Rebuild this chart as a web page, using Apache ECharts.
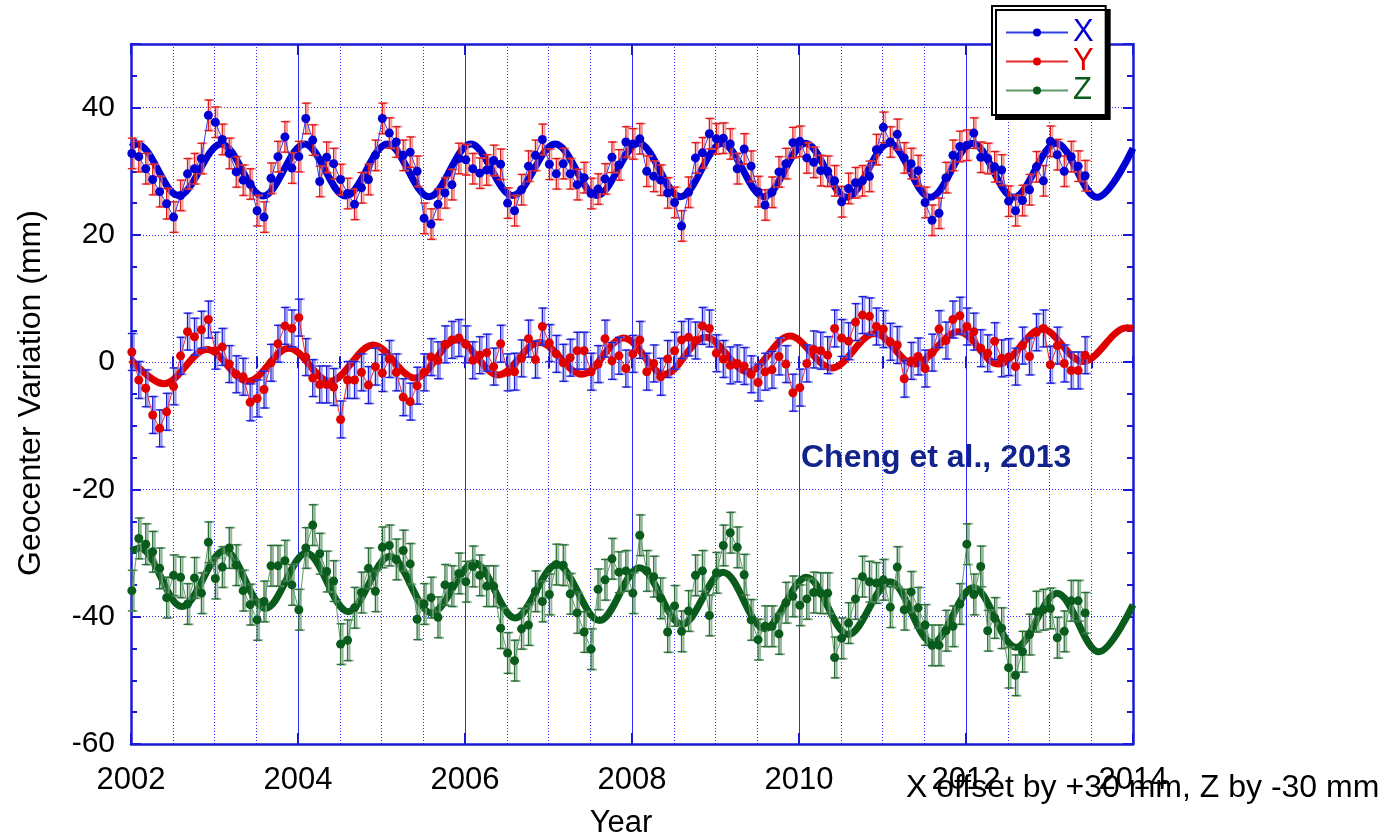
<!DOCTYPE html>
<html>
<head>
<meta charset="utf-8">
<script src="https://cdn.jsdelivr.net/npm/echarts@6/dist/echarts.min.js"></script>
<style>
  html, body { margin: 0; padding: 0; background: #fff; }
  #chart { width: 1389px; height: 839px; }
</style>
</head>
<body>
<div id="chart"></div>
<script>
// Monthly geocenter solutions, first epoch early January 2002 (decimal years)
const startYear = 2002.01;
const monthStep = 1 / 12;

// X component, offset by +30 mm
const xValues = [
  32.8, 32.3, 30.4, 28.7, 26.8, 24.9, 22.8, 26.2, 29.6, 30.4, 32.0, 38.8,
  37.7, 35.0, 32.8, 29.9, 28.6, 28.0, 23.8, 22.8, 28.9, 32.3, 35.4, 30.5,
  32.3, 38.3, 34.9, 28.4, 32.2, 31.2, 28.7, 26.5, 24.8, 27.4, 28.7, 32.5,
  38.3, 36.0, 34.6, 32.5, 33.0, 30.0, 22.6, 21.7, 24.8, 26.6, 27.9, 32.0,
  31.8, 30.4, 29.7, 30.2, 31.7, 31.1, 25.0, 23.8, 27.1, 30.8, 32.5, 35.0,
  31.1, 29.6, 31.2, 29.6, 27.9, 29.0, 26.5, 27.2, 28.8, 32.2, 31.0, 34.6,
  34.3, 35.1, 30.0, 29.2, 28.6, 26.6, 25.1, 21.4, 26.7, 32.1, 32.9, 35.9,
  35.1, 35.2, 34.3, 30.4, 33.5, 30.8, 26.8, 24.7, 26.7, 29.9, 31.2, 34.5,
  34.7, 32.1, 31.4, 30.1, 30.0, 28.5, 25.2, 27.3, 28.2, 28.5, 29.2, 33.4,
  36.9, 34.6, 35.8, 32.1, 31.2, 30.1, 25.1, 22.3, 23.4, 29.0, 32.5, 33.9,
  34.1, 36.0, 32.2, 32.0, 30.7, 30.2, 25.3, 23.8, 25.4, 27.1, 30.7, 28.5,
  34.7, 32.6, 30.0, 32.3, 30.8, 29.3
];

// Y component, no offset
const yValues = [
  1.6, -2.8, -4.1, -8.3, -10.4, -7.8, -3.8, 1.0, 4.8, 4.0, 5.1, 6.7,
  1.8, 2.4, -0.3, -1.9, -2.3, -6.3, -5.7, -4.3, -0.1, 2.9, 5.7, 5.3,
  7.0, 0.8, -2.5, -3.5, -3.5, -3.9, -9.0, -2.8, -2.8, -1.6, -3.6, -0.7,
  -1.7, 0.5, -1.6, -5.5, -6.2, -3.7, -1.6, 0.8, 0.3, 2.8, 3.5, 3.8,
  2.8, 0.3, 1.1, 1.5, -0.7, 2.9, -1.6, -1.5, 0.6, 3.7, 0.4, 5.6,
  3.0, 1.3, -0.1, 0.7, 1.8, 1.8, -1.5, -0.3, 3.7, 0.2, 1.0, -1.0,
  1.3, 3.5, -1.5, -0.2, -2.3, 0.5, 1.8, 3.5, 3.9, 3.4, 5.7, 5.3,
  1.4, 0.5, -0.5, -0.2, -0.6, -1.9, -3.2, -1.5, -1.2, 0.9, -0.3, -4.8,
  -4.0, -0.2, 2.0, 1.8, 1.1, 5.3, 3.8, 3.3, 6.3, 7.4, 7.2, 5.6,
  5.2, 3.2, 2.7, -2.6, 0.2, 0.9, -1.0, 1.5, 5.2, 3.4, 6.7, 7.3,
  5.6, 4.8, 2.2, 1.4, 3.3, 0.6, 0.8, -0.7, 2.6, 0.9, 4.7, 5.3,
  -0.4, 2.6, -0.2, -1.3, -1.3, 1.1
];

// Z component, offset by -30 mm
const zValues = [
  -35.9, -27.7, -28.6, -29.8, -32.4, -37.0, -33.5, -33.8, -38.0, -33.9, -36.3, -28.3,
  -34.0, -32.2, -29.2, -31.9, -35.9, -38.1, -40.5, -37.6, -32.0, -32.0, -31.2, -35.0,
  -38.9, -29.2, -25.6, -30.1, -32.9, -34.4, -44.3, -43.7, -38.6, -36.2, -32.4, -36.0,
  -29.1, -28.8, -31.0, -29.6, -31.7, -40.4, -38.0, -37.0, -40.1, -35.0, -35.2, -33.2,
  -34.5, -32.1, -33.5, -35.2, -35.2, -41.8, -45.7, -46.9, -41.9, -41.3, -36.0, -37.6,
  -36.5, -31.8, -31.9, -36.4, -39.4, -42.4, -45.1, -35.7, -34.2, -30.9, -33.0, -32.8,
  -36.3, -27.2, -32.8, -33.7, -37.1, -42.4, -38.3, -42.3, -39.1, -33.5, -32.8, -39.8,
  -33.1, -28.8, -26.8, -29.1, -33.4, -40.5, -43.6, -41.5, -41.5, -42.7, -37.8, -36.8,
  -38.2, -37.2, -36.2, -36.3, -36.3, -46.4, -43.4, -41.0, -37.2, -33.7, -34.5, -34.7,
  -34.2, -38.5, -32.2, -38.9, -36.1, -38.6, -41.3, -44.5, -44.5, -42.2, -41.5, -38.0,
  -28.6, -36.5, -32.1, -42.2, -40.2, -41.8, -48.0, -49.2, -45.5, -42.8, -39.2, -38.9,
  -38.7, -43.3, -42.3, -37.5, -37.5, -39.4
];

// Typical one-sigma uncertainty of each component (mm)
const xSigma = 2.4;
const ySigma = 2.9;
const zSigma = 3.2;

// Fitted seasonal model: start, successive maxima/minima, end
const xFitYears  = [2002.00, 2002.07, 2002.57, 2003.08, 2003.58, 2004.08, 2004.57, 2005.07, 2005.57, 2006.07, 2006.57, 2007.08, 2007.58, 2008.08, 2008.58, 2009.08, 2009.58, 2010.08, 2010.57, 2011.08, 2011.57, 2012.08, 2012.57, 2013.08, 2013.57, 2014.00];
const xFitValues = [33.8, 34.3, 26.2, 34.3, 26.1, 34.3, 26.1, 34.3, 26.0, 34.3, 26.2, 34.3, 26.2, 34.4, 26.0, 34.4, 26.0, 34.4, 25.9, 34.4, 25.9, 34.4, 25.9, 34.4, 25.9, 33.6];

const yFitYears  = [2002.00, 2002.39, 2002.91, 2003.40, 2003.89, 2004.38, 2004.90, 2005.40, 2005.90, 2006.40, 2006.89, 2007.40, 2007.90, 2008.39, 2008.88, 2009.39, 2009.89, 2010.39, 2010.91, 2011.38, 2011.91, 2012.39, 2012.91, 2013.40, 2013.93, 2014.00];
const yFitValues = [0.4, -3.4, 2.0, -3.0, 2.2, -3.0, 2.7, -2.5, 3.5, -2.0, 3.1, -1.9, 3.8, -1.9, 3.9, -1.5, 4.1, -0.9, 4.5, -0.3, 4.8, -0.3, 5.2, 0.1, 5.4, 5.3];

const zFitYears  = [2002.00, 2002.10, 2002.61, 2003.12, 2003.61, 2004.10, 2004.60, 2005.10, 2005.60, 2006.11, 2006.60, 2007.10, 2007.61, 2008.09, 2008.60, 2009.09, 2009.59, 2010.09, 2010.59, 2011.09, 2011.60, 2012.09, 2012.60, 2013.09, 2013.59, 2014.00];
const zFitValues = [-29.7, -29.2, -38.4, -29.6, -38.7, -30.0, -39.2, -30.5, -39.4, -31.5, -40.2, -31.8, -40.6, -32.3, -41.2, -33.0, -41.9, -33.8, -42.8, -34.5, -44.1, -35.4, -44.8, -36.3, -45.5, -38.1];

// Axis ranges and tick spacing
const yearMin = 2002, yearMax = 2014, yearMajor = 2, yearMinor = 0.5;
const mmMin = -60, mmMax = 50, mmMajor = 20, mmMinor = 5;

const FONT = '"Liberation Sans", Arial, Helvetica, sans-serif';
const AXIS_BLUE = '#1a1ad4';
const GRID_BLUE = '#2a2aff';
const X_COLOR = '#0000d2';
const Y_COLOR = '#e00000';
const Z_COLOR = '#0a5c1c';

function epochs(n) {
  const t = [];
  for (let i = 0; i < n; i++) t.push(startYear + i * monthStep);
  return t;
}

function pairs(years, values) {
  return values.map((v, i) => [years[i], v]);
}

function errorBars(name, values, sigma, dark, light) {
  const t = epochs(values.length);
  return {
    type: 'custom',
    name: name,
    z: 3,
    silent: true,
    data: values.map((v, i) => [t[i], v, sigma]),
    encode: { x: 0, y: 1 },
    renderItem(params, api) {
      const yr = api.value(0), v = api.value(1), e = api.value(2);
      const hi = api.coord([yr, v + e]);
      const lo = api.coord([yr, v - e]);
      const hw = 4;
      const children = [];
      [[2, light, 2], [0, dark, 1.3]].forEach(([dx, c, w]) => {
        const st = { stroke: c, lineWidth: w };
        children.push({ type: 'line', shape: { x1: hi[0] + dx, y1: hi[1], x2: lo[0] + dx, y2: lo[1] }, style: st });
        children.push({ type: 'line', shape: { x1: hi[0] + dx - hw, y1: hi[1], x2: hi[0] + dx + hw, y2: hi[1] }, style: st });
        children.push({ type: 'line', shape: { x1: lo[0] + dx - hw, y1: lo[1], x2: lo[0] + dx + hw, y2: lo[1] }, style: st });
      });
      return { type: 'group', children };
    }
  };
}

function monthly(name, values, dotColor, lineColor) {
  return {
    type: 'line',
    name: name,
    z: 4,
    data: pairs(epochs(values.length), values),
    symbol: 'circle',
    symbolSize: 9,
    showSymbol: true,
    itemStyle: { color: dotColor },
    lineStyle: { color: lineColor, width: 1 },
    emphasis: { disabled: true }
  };
}

function fitCurve(name, years, values, color) {
  return {
    type: 'line',
    name: name,
    z: 2,
    data: pairs(years, values),
    smooth: 0.35,
    showSymbol: false,
    symbol: 'none',
    lineStyle: { color: color, width: 7 },
    emphasis: { disabled: true }
  };
}

function xAxisDef(position, interval, tickLen, opts) {
  return Object.assign({
    type: 'value', position: position, min: yearMin, max: yearMax, interval: interval,
    axisLine: { show: false },
    axisTick: { show: true, inside: true, length: tickLen, lineStyle: { color: AXIS_BLUE, width: 2 } },
    axisLabel: { show: false },
    splitLine: { show: false }
  }, opts || {});
}

function yAxisDef(position, interval, tickLen, opts) {
  return Object.assign({
    type: 'value', position: position, min: mmMin, max: mmMax, interval: interval,
    axisLine: { show: false },
    axisTick: { show: true, inside: true, length: tickLen, lineStyle: { color: AXIS_BLUE, width: 2 } },
    axisLabel: { show: false },
    splitLine: { show: false }
  }, opts || {});
}

const axisLine = { show: true, onZero: false, lineStyle: { color: AXIS_BLUE, width: 2.5 } };
const dotted = { color: GRID_BLUE, width: 1, type: [1, 2] };

const chart = echarts.init(document.getElementById('chart'), null, { renderer: 'canvas' });

chart.setOption({
  animation: false,
  backgroundColor: '#ffffff',
  grid: { left: 131, top: 44, width: 1002, height: 700, containLabel: false },
  xAxis: [
    xAxisDef('bottom', yearMajor, 11, {
      axisLine: axisLine,
      axisLabel: { show: true, color: '#000', fontSize: 31, fontFamily: FONT, margin: 21,
                   formatter: v => String(v) },
      splitLine: { show: true, lineStyle: { color: GRID_BLUE, width: 1, type: 'solid' } }
    }),
    xAxisDef('bottom', yearMinor, 6, {
      splitLine: { show: true, lineStyle: dotted }
    }),
    xAxisDef('top', yearMajor, 11, { axisLine: axisLine }),
    xAxisDef('top', yearMinor, 6)
  ],
  yAxis: [
    yAxisDef('left', mmMajor, 10, {
      axisLine: axisLine,
      axisLabel: { show: true, color: '#000', fontSize: 30, fontFamily: FONT, margin: 16,
                   formatter: v => (v > 40 ? '' : String(v)) },
      splitLine: { show: true, lineStyle: dotted }
    }),
    yAxisDef('right', mmMajor, 10, { axisLine: axisLine }),
    yAxisDef('left', mmMinor, 6),
    yAxisDef('right', mmMinor, 6)
  ],
  legend: {
    orient: 'vertical',
    left: 992,
    top: 6,
    selectedMode: false,
    data: [
      { name: 'X', textStyle: { color: X_COLOR } },
      { name: 'Y', textStyle: { color: Y_COLOR } },
      { name: 'Z', textStyle: { color: Z_COLOR } }
    ],
    itemWidth: 62,
    itemHeight: 10,
    itemGap: -2,
    padding: [11, 12, 9, 13],
    textStyle: { fontSize: 31, fontFamily: FONT, lineHeight: 28 },
    backgroundColor: '#ffffff',
    borderColor: '#000000',
    borderWidth: 2,
    borderRadius: 0,
    shadowColor: '#000000',
    shadowBlur: 0,
    shadowOffsetX: 4,
    shadowOffsetY: 4
  },
  series: [
    fitCurve('X fit', xFitYears, xFitValues, X_COLOR),
    fitCurve('Y fit', yFitYears, yFitValues, Y_COLOR),
    fitCurve('Z fit', zFitYears, zFitValues, Z_COLOR),
    errorBars('X error', xValues, xSigma, '#e01a1a', 'rgba(240,120,120,0.75)'),
    errorBars('Y error', yValues, ySigma, '#1c1cd8', 'rgba(120,120,235,0.75)'),
    errorBars('Z error', zValues, zSigma, '#2a6e38', 'rgba(120,165,130,0.8)'),
    monthly('X', xValues, X_COLOR, '#3040e6'),
    monthly('Y', yValues, Y_COLOR, '#e42a2a'),
    monthly('Z', zValues, Z_COLOR, '#5e9a6a')
  ],
  graphic: [
    {
      type: 'text', x: 31, y: 393, rotation: Math.PI / 2, z: 10,
      style: { text: 'Geocenter Variation (mm)', fill: '#000', font: '32px ' + FONT,
               textAlign: 'center', textVerticalAlign: 'middle' }
    },
    {
      type: 'text', x: 621, y: 823, z: 10,
      style: { text: 'Year', fill: '#000', font: '31px ' + FONT,
               textAlign: 'center', textVerticalAlign: 'middle' }
    },
    {
      type: 'text', x: 906, y: 788, z: 10,
      style: { text: 'X offset by +30 mm, Z by -30 mm', fill: '#000', font: '32px ' + FONT,
               textAlign: 'left', textVerticalAlign: 'middle' }
    },
    {
      type: 'text', x: 801, y: 458, z: 10,
      style: { text: 'Cheng et al., 2013', fill: '#13238c', font: 'bold 32px ' + FONT,
               textAlign: 'left', textVerticalAlign: 'middle' }
    }
  ]
});
</script>
</body>
</html>
